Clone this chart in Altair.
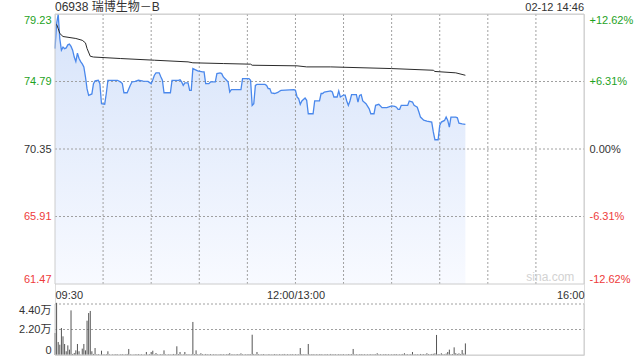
import altair as alt
import pandas as pd

# ---------------- data ----------------
price_minutes = [0, 1, 2, 3, 4, 5, 6, 7, 8, 9, 10, 11, 12, 13, 14, 15, 16, 17, 18, 19,
                 20, 21, 23, 24, 25, 27, 28, 29, 31, 32, 33, 39, 41, 42, 43, 45, 46, 47, 48, 50,
                 52, 55, 58, 60, 61, 62, 63, 65, 66, 67, 68, 72, 73, 77, 78, 79, 80, 81, 83, 84,
                 85, 86, 89, 92, 93, 94, 96, 97, 100, 101, 103, 104, 105, 107, 108, 109, 110, 116, 117, 121,
                 122, 123, 124, 125, 126, 131, 132, 133, 134, 135, 137, 139, 140, 141, 149, 150, 151, 152, 153, 154,
                 156, 157, 158, 161, 162, 165, 166, 167, 168, 172, 173, 174, 176, 177, 178, 180, 181, 182, 183, 184,
                 185, 188, 189, 190, 191, 192, 194, 196, 197, 199, 200, 202, 204, 207, 210, 212, 213, 214, 215, 216,
                 220, 221, 223, 224, 226, 227, 228, 230, 232, 235, 236, 237, 239, 240, 241, 243, 244, 245, 246, 247,
                 250, 251, 252, 254, 256]
price_values = [76.95, 78.60, 79.20, 77.60, 76.85, 77.05, 76.95, 77.00, 77.20, 77.25, 77.10, 76.85, 76.40, 76.10, 76.65, 76.30, 76.10, 75.95, 75.75, 75.10,
                74.30, 73.88, 73.97, 74.65, 74.83, 74.87, 74.65, 73.33, 73.30, 74.00, 74.87, 74.87, 74.75, 74.65, 74.05, 74.05, 74.30, 74.55, 74.76, 74.80,
                74.87, 74.82, 74.80, 74.65, 74.90, 75.20, 75.36, 75.36, 75.10, 74.87, 74.05, 74.05, 74.87, 74.87, 74.90, 74.76, 74.53, 74.70, 74.70, 74.21,
                74.21, 75.64, 75.49, 75.42, 75.42, 74.65, 74.65, 74.76, 74.76, 75.31, 75.35, 75.31, 75.09, 74.87, 74.76, 74.10, 74.26, 74.26, 74.98, 74.98,
                74.87, 73.22, 73.33, 74.53, 74.60, 74.60, 74.53, 74.32, 74.32, 74.04, 74.00, 74.07, 74.15, 74.21, 74.26, 74.21, 73.77, 73.66, 73.29, 73.51,
                73.70, 73.55, 72.67, 72.67, 73.51, 73.51, 74.00, 74.00, 74.10, 74.17, 74.10, 73.77, 73.77, 74.17, 73.77, 73.90, 73.90, 73.51, 73.22, 73.51,
                73.93, 73.93, 73.44, 73.88, 73.93, 73.51, 73.33, 72.99, 72.67, 72.67, 73.22, 73.29, 73.07, 73.07, 73.18, 73.15, 73.10, 72.96, 72.96, 73.22,
                73.22, 73.51, 73.44, 73.22, 73.10, 72.78, 72.45, 72.25, 72.19, 72.12, 71.47, 70.96, 70.96, 71.90, 72.12, 72.23, 72.45, 72.23, 71.79, 72.45,
                72.45, 72.40, 72.05, 72.00, 71.97]

avg_minutes = [1, 2, 3, 5, 13, 17, 19, 20, 22, 24, 41, 62, 83, 86, 105, 122, 123, 151, 157, 172, 210, 236, 237, 250, 256]
avg_values = [78.55, 78.27, 77.95, 77.75, 77.62, 77.50, 77.33, 76.96, 76.45, 76.40, 76.30, 76.19, 76.08, 76.02, 75.97, 75.93, 75.86, 75.82, 75.75, 75.75, 75.64, 75.53, 75.45, 75.36, 75.20]

volumes = [19000, 45000, 11200, 8900, 23300, 16100, 9500, 3200, 8300, 4600, 38500, 900, 1700, 4000, 9500, 3200, 300, 5500, 9500, 4000,
           29600, 36200, 38000, 3200, 900, 6000,
           500, 800, 300, 3700, 600, 400, 700, 3200, 500, 300, 600, 400, 800, 500, 300, 600, 700, 400, 500, 900,
           5200, 600, 400, 300, 700, 500, 800, 400, 600, 300, 500, 2600, 400, 700, 2600, 3700, 500, 1700, 600, 400,
           800, 500, 4000, 600, 300, 700, 400, 500, 900, 600, 7500, 800, 2600, 400, 600, 2600, 500, 700, 400, 600,
           28500, 800, 4000, 600, 500, 1500, 700, 400, 900, 600, 500, 800, 400, 700, 500, 600, 300, 800, 500, 700,
           400, 600, 900, 1500, 500, 700, 400, 600, 800, 500, 1400, 600, 400, 700, 500, 800, 600, 17500, 900, 500,
           2600, 700, 400, 600, 800, 500, 300, 700, 600, 400, 500, 800, 600, 400, 700, 500, 600, 900, 400, 700,
           500, 600, 800, 400, 700, 500, 600, 6000, 800, 500, 700, 400, 9500, 600, 500, 800, 400, 700, 500, 600,
           800, 400, 500, 700, 600, 400, 900, 500, 700, 600, 400, 800, 500, 600, 700, 400, 500, 800, 600, 700,
           5200, 500, 700, 400, 600, 800, 500, 700, 400, 600, 500, 800, 400, 700, 600, 1500, 500, 700, 400, 600,
           800, 500, 700, 400, 600, 500, 800, 700, 400, 600, 500, 900, 1500, 600, 700, 400, 800, 2600, 600, 500,
           700, 400, 900, 600, 800, 500, 1500, 700, 600, 900, 1000, 1400, 17300, 800, 600, 1500, 700, 500, 1200, 2600,
           4600, 600, 800, 6600, 1500, 900, 1400, 800, 4300, 1200, 10000]

price_ticks = [61.47, 65.91, 70.35, 74.79, 79.23]
pct_ticks = [-12.62, -6.31, 0.0, 6.31, 12.62]
vol_ticks = [0, 22000, 44000]
time_ticks = [0, 150, 330]
time_labels = ["09:30", "12:00/13:00", "16:00"]
grid_minutes = [30, 60, 90, 120, 150, 180, 210, 240, 270, 300]
title_text = "06938 瑞博生物－B"
stamp_text = "02-12 14:46"
watermark_text = "sina.com"
pre_close = 70.35
session_minutes = 330

# ---------------- styling ----------------
FONT = "Liberation Sans, Arial, Noto Sans CJK SC"
GREEN = "#1ea21e"
RED = "#ee3b3b"
DARK = "#333333"
GRID = "#a0a0a0"
FRAME = "#cccccc"
BLUE = "#4a88ec"
DASH = [2, 2]

W, H = 529, 341
PRICE_RANGE = [270, 0]
VOL_RANGE = [341, 290]

price_df = pd.DataFrame({"minute": price_minutes, "price": price_values})
avg_df = pd.DataFrame({"minute": avg_minutes, "avg": avg_values})
vol_df = pd.DataFrame({"minute": list(range(len(volumes))), "vol": volumes})
pct_df = pd.DataFrame({"pct": pct_ticks})
vgrid_df = pd.DataFrame({"minute": grid_minutes,
                         "lo": [price_ticks[0]] * len(grid_minutes),
                         "hi": [price_ticks[-1]] * len(grid_minutes)})
hgrid_df = pd.DataFrame({"price": price_ticks[1:-1],
                         "x0": [0] * 3, "x1": [session_minutes] * 3})
vhgrid_df = pd.DataFrame({"vol": vol_ticks[1:], "x0": [0] * 2, "x1": [session_minutes] * 2})
frame_df = pd.DataFrame({"x0": [0], "x1": [session_minutes],
                         "y0": [price_ticks[0]], "y1": [price_ticks[-1]]})
vframe_df = pd.DataFrame({"x0": [0, session_minutes, 0],
                          "x1": [0, session_minutes, session_minutes],
                          "y0": [0, 0, 0],
                          "y1": [vol_ticks[-1], vol_ticks[-1], 0]})
title_df = pd.DataFrame({"minute": [0], "t": [title_text]})
stamp_df = pd.DataFrame({"minute": [session_minutes], "t": [stamp_text]})
wm_df = pd.DataFrame({"minute": [324], "price": [61.9], "t": [watermark_text]})


def xs():
    return alt.Scale(domain=[0, session_minutes], nice=False, zero=False)


def ps():
    return alt.Scale(domain=[price_ticks[0], price_ticks[-1]], range=PRICE_RANGE, nice=False, zero=False)


def vs():
    return alt.Scale(domain=[0, vol_ticks[-1]], range=VOL_RANGE, nice=False, zero=False)


pctscale = alt.Scale(domain=[pct_ticks[0], pct_ticks[-1]], range=PRICE_RANGE, nice=False, zero=False)


def X(field="minute:Q"):
    return alt.X(field, scale=xs(), axis=None)


price_color = {"condition": [{"test": f"datum.value > {pre_close + 0.01}", "value": GREEN},
                             {"test": f"datum.value < {pre_close - 0.01}", "value": RED}],
               "value": DARK}
pct_color = {"condition": [{"test": "datum.value > 0.001", "value": GREEN},
                           {"test": "datum.value < -0.001", "value": RED}],
             "value": DARK}

time_expr = " : ".join(
    [f"datum.value == {v} ? '{l}'" for v, l in zip(time_ticks[:-1], time_labels[:-1])]
) + f" : '{time_labels[-1]}'"

area = alt.Chart(price_df).mark_area(
    color=alt.Gradient(
        gradient="linear",
        stops=[alt.GradientStop(color="#d6e3fa", offset=0),
               alt.GradientStop(color="#f8faff", offset=1)],
        x1=0, x2=0, y1=0, y2=1,
    ),
    interpolate="linear",
).encode(
    x=X(),
    y=alt.Y("price:Q", scale=ps(),
            axis=alt.Axis(orient="left", values=price_ticks, format=".2f", title=None,
                          domain=False, ticks=False, labelPadding=4, labelFlush=True,
                          labelFontSize=11, labelFont=FONT, labelColor=price_color,
                          grid=False)),
    y2=alt.datum(price_ticks[0]),
)

# dotted grid lines drawn above the fill (price panel only)
vgrid = alt.Chart(vgrid_df).mark_rule(color=GRID, strokeDash=DASH, strokeWidth=1).encode(
    x=X(),
    y=alt.Y("lo:Q", scale=ps(), axis=None),
    y2="hi:Q",
)
hgrid = alt.Chart(hgrid_df).mark_rule(color=GRID, strokeDash=DASH, strokeWidth=1).encode(
    x=X("x0:Q"),
    x2="x1:Q",
    y=alt.Y("price:Q", scale=ps(), axis=None),
)

line = alt.Chart(price_df).mark_line(color=BLUE, strokeWidth=1.3).encode(
    x=X(), y=alt.Y("price:Q", scale=ps(), axis=None)
)

avg = alt.Chart(avg_df).mark_line(color="#2b2b2b", strokeWidth=1).encode(
    x=alt.X("minute:Q", scale=xs(),
            axis=alt.Axis(orient="bottom", values=time_ticks, labelExpr=time_expr,
                          offset=-(H - PRICE_RANGE[0]),
                          labelFlush=True, domain=False, ticks=False, grid=False,
                          labelPadding=5, labelFontSize=11, labelFont=FONT, labelColor=DARK,
                          title=None)),
    y=alt.Y("avg:Q", scale=ps(), axis=None),
)

frame = alt.Chart(frame_df).mark_rect(fillOpacity=0, stroke=FRAME, strokeWidth=1).encode(
    x=X("x0:Q"), x2="x1:Q",
    y=alt.Y("y0:Q", scale=ps(), axis=None), y2="y1:Q",
)

pct = alt.Chart(pct_df).mark_point(opacity=0).encode(
    y=alt.Y("pct:Q", scale=pctscale,
            axis=alt.Axis(orient="right", values=pct_ticks, title=None,
                          labelExpr="(datum.value > 0.001 ? '+' : datum.value < -0.001 ? '-' : '') + format(abs(datum.value), '.2f') + '%'",
                          domain=False, ticks=False, grid=False, labelPadding=5, labelFlush=True,
                          labelFontSize=11, labelFont=FONT, labelColor=pct_color)),
)

vhgrid = alt.Chart(vhgrid_df).mark_rule(color=GRID, strokeDash=DASH, strokeWidth=1).encode(
    x=X("x0:Q"),
    x2="x1:Q",
    y=alt.Y("vol:Q", scale=vs(), axis=None),
)

vol = alt.Chart(vol_df).mark_rule(color="#555555", strokeWidth=1).encode(
    x=X(),
    y=alt.Y("vol:Q", scale=vs(),
            axis=alt.Axis(orient="left", values=vol_ticks, title=None,
                          labelExpr="datum.value == 0 ? '0' : format(datum.value / 10000, '.2f') + '万'",
                          domain=False, ticks=False, labelPadding=4, labelFlush=True,
                          labelFontSize=11, labelFont=FONT, labelColor=DARK, grid=False)),
    y2=alt.datum(0),
)

vframe = alt.Chart(vframe_df).mark_rule(color=FRAME, strokeWidth=1).encode(
    x=X("x0:Q"), x2="x1:Q",
    y=alt.Y("y0:Q", scale=vs(), axis=None), y2="y1:Q",
)

title_l = alt.Chart(title_df).mark_text(align="left", baseline="middle", fontSize=12, font=FONT,
                                        color=DARK).encode(x=X(), y=alt.value(-7), text="t:N")
stamp_r = alt.Chart(stamp_df).mark_text(align="right", baseline="middle", fontSize=11, font=FONT,
                                        color=DARK).encode(x=X(), y=alt.value(-6), text="t:N")
wm = alt.Chart(wm_df).mark_text(align="right", baseline="middle", fontSize=12, font=FONT,
                                color="#d2d2d2").encode(
    x=X(), y=alt.Y("price:Q", scale=ps(), axis=None), text="t:N")

chart = alt.layer(
    area, vgrid, hgrid, line, avg, frame, pct, vhgrid, vol, vframe, title_l, stamp_r, wm
).resolve_scale(x="independent", y="independent").properties(
    width=W, height=H,
    padding={"left": 55, "top": 14, "right": 56, "bottom": 5},
    autosize=alt.AutoSizeParams(type="none"),
    background="white",
).configure_view(stroke=None).configure(font=FONT)

chart.save("out.html", embed_options={"renderer": "svg", "actions": False})
